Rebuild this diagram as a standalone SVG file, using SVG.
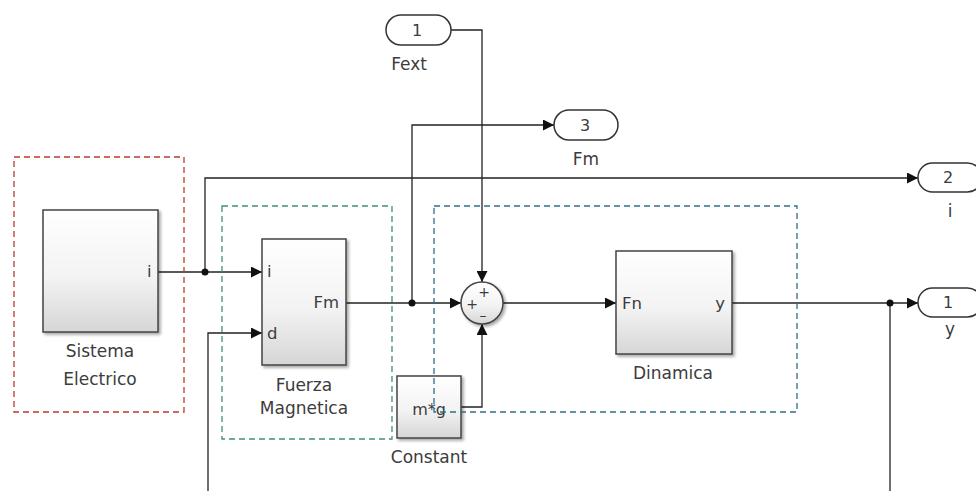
<svg xmlns="http://www.w3.org/2000/svg" width="976" height="491" viewBox="0 0 976 491">
<defs>
<linearGradient id="g" x1="0" y1="0" x2="0" y2="1">
<stop offset="0" stop-color="#ffffff"/>
<stop offset="0.55" stop-color="#f3f3f3"/>
<stop offset="1" stop-color="#d6d6d6"/>
</linearGradient>
<marker id="ar" viewBox="0 0 10 10" refX="10" refY="5" markerWidth="11" markerHeight="11" markerUnits="userSpaceOnUse" orient="auto">
<path d="M0,0 L10,5 L0,10 z" fill="#111"/>
</marker>
<filter id="sh" x="-10%" y="-10%" width="130%" height="130%">
<feDropShadow dx="2" dy="2" stdDeviation="1.5" flood-color="#000" flood-opacity="0.35"/>
</filter>
</defs>
<style>
text{font-family:"DejaVu Sans","Liberation Sans",sans-serif;fill:#3c3c3c;}
.lbl{font-size:17px;text-anchor:middle;}
.port{font-size:16.5px;}
.num{font-size:16px;text-anchor:middle;}
.sgn{font-size:14px;text-anchor:middle;}
.blk{fill:url(#g);stroke:#444;stroke-width:1.5;filter:url(#sh);}
.pill{fill:#fff;stroke:#333;stroke-width:1.5;}
.w{fill:none;stroke:#222;stroke-width:1.3;}
.dash{fill:none;stroke-width:1.3;stroke-dasharray:6,4;}
</style>
<rect width="976" height="491" fill="#fff"/>

<g id="connectors">
<polyline class="w" points="158,272 262,272" marker-end="url(#ar)"/>
<polyline class="w" points="205,272 205,178 918,178" marker-end="url(#ar)"/>
<polyline class="w" points="208,491 208,333 262,333" marker-end="url(#ar)"/>
<polyline class="w" points="346,303 461,303" marker-end="url(#ar)"/>
<polyline class="w" points="412,303 412,125 554,125" marker-end="url(#ar)"/>
<polyline class="w" points="451,30 482,30 482,282" marker-end="url(#ar)"/>
<polyline class="w" points="461,407 482,407 482,324" marker-end="url(#ar)"/>
<polyline class="w" points="503,303 616,303" marker-end="url(#ar)"/>
<polyline class="w" points="732,303 918,303" marker-end="url(#ar)"/>
<polyline class="w" points="890,303 890,491"/>
<circle cx="205" cy="272" r="3.5" fill="#111"/>
<circle cx="412" cy="303" r="3.5" fill="#111"/>
<circle cx="890" cy="303" r="3.5" fill="#111"/>
</g>

<g id="sistema">
<rect class="blk" x="43" y="210" width="115" height="122"/>
<text class="port" x="147" y="277">i</text>
<text class="lbl" x="100" y="357">Sistema</text>
<text class="lbl" x="100" y="385">Electrico</text>
</g>

<g id="fuerza">
<rect class="blk" x="262" y="239" width="84" height="126"/>
<text class="port" x="267" y="277">i</text>
<text class="port" x="267" y="339">d</text>
<text class="port" x="339" y="308" text-anchor="end">Fm</text>
<text class="lbl" x="304" y="391">Fuerza</text>
<text class="lbl" x="304" y="414">Magnetica</text>
</g>

<g id="sum">
<circle cx="482" cy="303" r="21" fill="url(#g)" stroke="#444" stroke-width="1.5" filter="url(#sh)"/>
<text class="sgn" x="484" y="297">+</text>
<text class="sgn" x="472" y="309">+</text>
<text class="sgn" x="483" y="320">–</text>
</g>

<g id="constant">
<rect class="blk" x="397" y="376" width="64" height="62"/>
<text x="429" y="415" font-size="16" text-anchor="middle">m*g</text>
<text class="lbl" x="429" y="463">Constant</text>
</g>

<g id="dinamica">
<rect class="blk" x="616" y="251" width="116" height="103"/>
<text class="port" x="622" y="309">Fn</text>
<text class="port" x="725" y="309" text-anchor="end">y</text>
<text class="lbl" x="673" y="379">Dinamica</text>
</g>

<g id="fext">
<rect class="pill" x="386" y="15" width="65" height="30" rx="15"/>
<text class="num" x="417" y="36">1</text>
<text class="lbl" x="409" y="70">Fext</text>
</g>

<g id="out_fm">
<rect class="pill" x="554" y="110" width="64" height="30" rx="15"/>
<text class="num" x="585" y="131">3</text>
<text class="lbl" x="586" y="165">Fm</text>
</g>

<g id="out_i">
<rect class="pill" x="918" y="163" width="64" height="29" rx="14.5"/>
<text class="num" x="948" y="183">2</text>
<text class="lbl" x="950" y="217">i</text>
</g>

<g id="out_y">
<rect class="pill" x="918" y="288" width="64" height="29" rx="14.5"/>
<text class="num" x="948" y="308">1</text>
<text class="lbl" x="950" y="335">y</text>
</g>

<g id="areas">
<rect class="dash" x="14" y="157" width="170" height="255" stroke="#c0392b"/>
<rect class="dash" x="222" y="206" width="170" height="233" stroke="#3f8f7f"/>
<rect class="dash" x="434" y="206" width="363" height="206" stroke="#2f6f8a"/>
</g>
</svg>
